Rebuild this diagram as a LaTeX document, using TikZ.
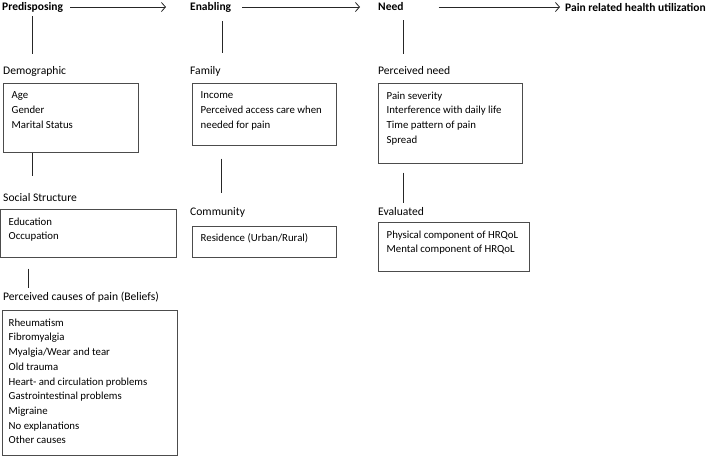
\documentclass[tikz,border=0pt]{standalone}
\usepackage{fontspec}
\setmainfont{Carlito}
\usepackage{tikz}
\usetikzlibrary{arrows.meta,positioning}

\tikzset{
  head/.style={anchor=west, inner sep=0pt, font=\fontsize{11.5}{13}\selectfont\bfseries},
  label/.style={anchor=west, inner sep=0pt, font=\fontsize{11.6}{13}\selectfont},
  frame/.style={draw=black!70, line width=0.7pt, anchor=north west, inner sep=0pt},
  items/.style={anchor=north west, inner sep=0pt, align=left, xshift=8.5pt, yshift=-8.5pt,
    font=\fontsize{10.8}{14.7}\selectfont},
  link/.style={draw=black!85, line width=0.8pt},
  flow/.style={link, -{Straight Barb[length=4pt,width=9pt]}},
}

\begin{document}
\begin{tikzpicture}[x=1pt,y=-1pt]
    \useasboundingbox (0,0) rectangle (709,456);
    %headers
    \node[head] (pre) at (2,7) {Predisposing};
    \node[head] (ena) at (190,7) {Enabling};
    \node[head] (need) at (378,7) {Need};
    \node[head] (use) at (565,7) {Pain related health utilization};
    %predisposing
    \node[label] (dem) at (3,71) {Demographic};
    \node[frame, minimum width=135, minimum height=69] (demBox) at (3,83) {};
    \node[items] (demList) at (demBox.north west) {Age\\Gender\\Marital Status};
    \node[label] (soc) at (3,198) {Social Structure};
    \node[frame, minimum width=176, minimum height=48] (socBox) at (0,209) {};
    \node[items] (socList) at (socBox.north west) {Education\\Occupation};
    \node[label] (bel) at (3,297) {Perceived causes of pain (Beliefs)};
    \node[frame, minimum width=175, minimum height=145] (belBox) at (2,310) {};
    \node[items, xshift=-2pt] (belList) at (belBox.north west) {Rheumatism\\Fibromyalgia\\Myalgia/Wear and tear\\Old trauma\\Heart- and circulation problems\\Gastrointestinal problems\\Migraine\\No explanations\\Other causes};
    %enabling
    \node[label] (fam) at (190,71) {Family};
    \node[frame, minimum width=144, minimum height=62] (famBox) at (192,83) {};
    \node[items] (famList) at (famBox.north west) {Income\\Perceived access care when\\needed for pain};
    \node[label] (com) at (190,212) {Community};
    \node[frame, minimum width=144, minimum height=31] (comBox) at (192,226) {};
    \node[items, yshift=1pt] (comList) at (comBox.north west) {Residence (Urban/Rural)};
    %need
    \node[label] (per) at (378,71) {Perceived need};
    \node[frame, minimum width=144, minimum height=80] (perBox) at (378,83) {};
    \node[items] (perList) at (perBox.north west) {Pain severity\\Interference with daily life\\Time pattern of pain\\Spread};
    \node[label] (eva) at (378,212) {Evaluated};
    \node[frame, minimum width=151, minimum height=49] (evaBox) at (378,222) {};
    \node[items] (evaList) at (evaBox.north west) {Physical component of HRQoL\\Mental component of HRQoL};
    %edges
    \path[flow]
     (pre) edge[shorten <=7pt, shorten >=24pt] (ena)
     (ena) edge[shorten <=11pt, shorten >=18pt] (need)
     (need) edge[shorten <=35pt, shorten >=5pt] (use);
    \draw[link] ([yshift=-4pt]pre.south) -- (pre.south |- dem.north) [shorten >=12pt];
    \draw[link] (demBox.south -| pre.south) -- ([yshift=-23pt]demBox.south -| pre.south);
    \draw[link] ([xshift=-4pt,yshift=-11pt]socBox.south -| pre.south) -- ([xshift=-4pt,yshift=4pt]bel.north -| pre.south);
    \draw[link] ([xshift=32pt,yshift=-9pt]ena.south west) -- ([xshift=32pt,yshift=13pt]fam.north west);
    \draw[link] ([xshift=29pt,yshift=-13pt]famBox.south west) -- ([xshift=31pt,yshift=14pt]com.north west);
    \draw[link] ([xshift=25pt,yshift=-9pt]need.south west) -- ([xshift=25pt,yshift=13pt]per.north west);
    \draw[link] ([xshift=25pt,yshift=-9pt]perBox.south west) -- ([xshift=25pt,yshift=5pt]eva.north west);
\end{tikzpicture}
\end{document}
